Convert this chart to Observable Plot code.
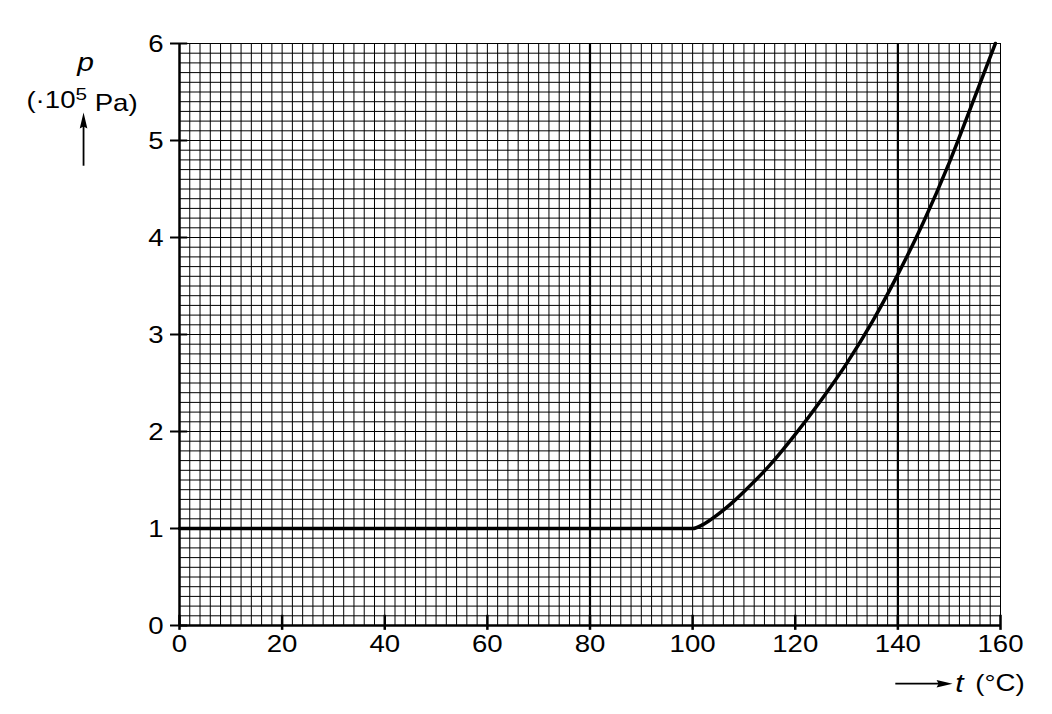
<!DOCTYPE html>
<html>
<head>
<meta charset="utf-8">
<script src="https://cdn.jsdelivr.net/npm/d3@7"></script>
<script src="https://cdn.jsdelivr.net/npm/@observablehq/plot@0.6"></script>
<style>
  html, body { margin: 0; padding: 0; background: #fff; }
  #chart { width: 1052px; height: 714px; }
</style>
</head>
<body>
<div id="chart"></div>
<script>
// Data
const temps = [0, 50, 96, 100, 102, 104, 106, 108, 110, 115, 120, 125, 130, 135, 140, 145, 150, 155, 159];
const pressures = [1, 1, 1, 1.0, 1.04, 1.11, 1.19, 1.28, 1.38, 1.65, 1.97, 2.32, 2.70, 3.13, 3.62, 4.16, 4.77, 5.45, 6.0];
const xTicks = [0, 20, 40, 60, 80, 100, 120, 140, 160];
const yTicks = [0, 1, 2, 3, 4, 5, 6];
const xMinor = d3.range(0, 161, 2);
const yMinor = d3.range(0, 61, 1).map(d => d / 10);
const xHeavy = [80, 140];

const curve = temps.map((t, i) => ({t, p: pressures[i]}));

// elongated arrowhead symbol (tip at negative y)
const arrowHead = {
  draw(ctx) {
    ctx.moveTo(0, -8);
    ctx.lineTo(3.8, 8);
    ctx.lineTo(0, 6);
    ctx.lineTo(-3.8, 8);
    ctx.closePath();
  }
};

const chart = Plot.plot({
  width: 1052,
  height: 714,
  marginLeft: 179,
  marginRight: 52,
  marginTop: 43,
  marginBottom: 89,
  x: {domain: [0, 160]},
  y: {domain: [0, 6]},
  style: {fontFamily: "'Liberation Sans', Arial, sans-serif", color: "#000", background: "#fff"},
  marks: [
    Plot.ruleX(xMinor, {stroke: "#000", strokeWidth: 1}),
    Plot.ruleY(yMinor, {stroke: "#000", strokeWidth: 1}),
    Plot.ruleX(xHeavy, {stroke: "#000", strokeWidth: 2.2}),
    Plot.ruleX([0], {stroke: "#000", strokeWidth: 2.5}),
    Plot.ruleY([0], {stroke: "#000", strokeWidth: 2.5}),
    // major ticks crossing axes
    Plot.ruleX(xTicks, {y1: -0.05, y2: 0.105, stroke: "#000", strokeWidth: 2.5}),
    Plot.ruleY(yTicks, {x1: -1.75, x2: 1.6, stroke: "#000", strokeWidth: 2}),
    Plot.axisX({ticks: xTicks, tickSize: 0, tickPadding: 10, fontSize: 23, label: null, tickFormat: d => String(d)}),
    Plot.axisY({ticks: yTicks, tickSize: 0, tickPadding: 16, fontSize: 23, dy: 1.5, label: null, tickFormat: d => String(d)}),
    Plot.line(curve, {x: "t", y: "p", curve: "monotone-x", stroke: "#000", strokeWidth: 3.5}),
    // axis titles
    Plot.text([{x: -18.3, y: 5.8, s: "p"}], {x: "x", y: "y", text: "s", fontSize: 25, fontStyle: "italic", fill: "#000"}),
    Plot.text([{x: -19.0, y: 5.41, s: "(·10^5 Pa)"}], {x: "x", y: "y", text: "s", fontSize: 23, fill: "#000"}),
    Plot.link([{x1: -18.7, y1: 4.74, x2: -18.7, y2: 5.18}], {x1: "x1", y1: "y1", x2: "x2", y2: "y2", stroke: "#000", strokeWidth: 1.8}),
    Plot.dot([{x: -18.7, y: 5.206}], {x: "x", y: "y", symbol: arrowHead, r: 4, fill: "#000", stroke: "none"}),
    Plot.link([{x1: 139.5, y1: -0.6, x2: 148.3, y2: -0.6}], {x1: "x1", y1: "y1", x2: "x2", y2: "y2", stroke: "#000", strokeWidth: 1.8}),
    Plot.dot([{x: 149.1, y: -0.6}], {x: "x", y: "y", symbol: arrowHead, r: 4, rotate: 90, fill: "#000", stroke: "none"}),
    Plot.text([{x: 151.2, y: -0.6, s: "t"}], {x: "x", y: "y", text: "s", fontSize: 25, fontStyle: "italic", textAnchor: "start", fill: "#000"}),
    Plot.text([{x: 155.1, y: -0.6, s: "(°C)"}], {x: "x", y: "y", text: "s", fontSize: 23, textAnchor: "start", fill: "#000"})
  ]
});

const svg = d3.select(chart.tagName.toLowerCase() === "svg" ? chart : chart.querySelector("svg"));

// superscript for the unit label
svg.selectAll("text").each(function() {
  if (this.textContent === "(·10^5 Pa)") {
    const el = d3.select(this);
    el.text(null);
    el.append("tspan").text("(·10");
    el.append("tspan").attr("dy", "-0.45em").attr("font-size", "0.75em").text("5");
    el.append("tspan").attr("dy", "0.45em").text(" Pa)");
  }
});

// the reference lettering is a little wider than Arial: stretch horizontally around each anchor
svg.selectAll("text").each(function() {
  const t = this.getAttribute("transform");
  if (t && t.includes("translate")) {
    this.setAttribute("transform", t + " scale(1.2,1)");
  } else {
    const x = +(this.getAttribute("x") || 0);
    const y = +(this.getAttribute("y") || 0);
    this.removeAttribute("x");
    this.removeAttribute("y");
    this.setAttribute("transform", `${t || ""} translate(${x},${y}) scale(1.2,1)`);
  }
});

document.getElementById("chart").appendChild(chart);
</script>
</body>
</html>
